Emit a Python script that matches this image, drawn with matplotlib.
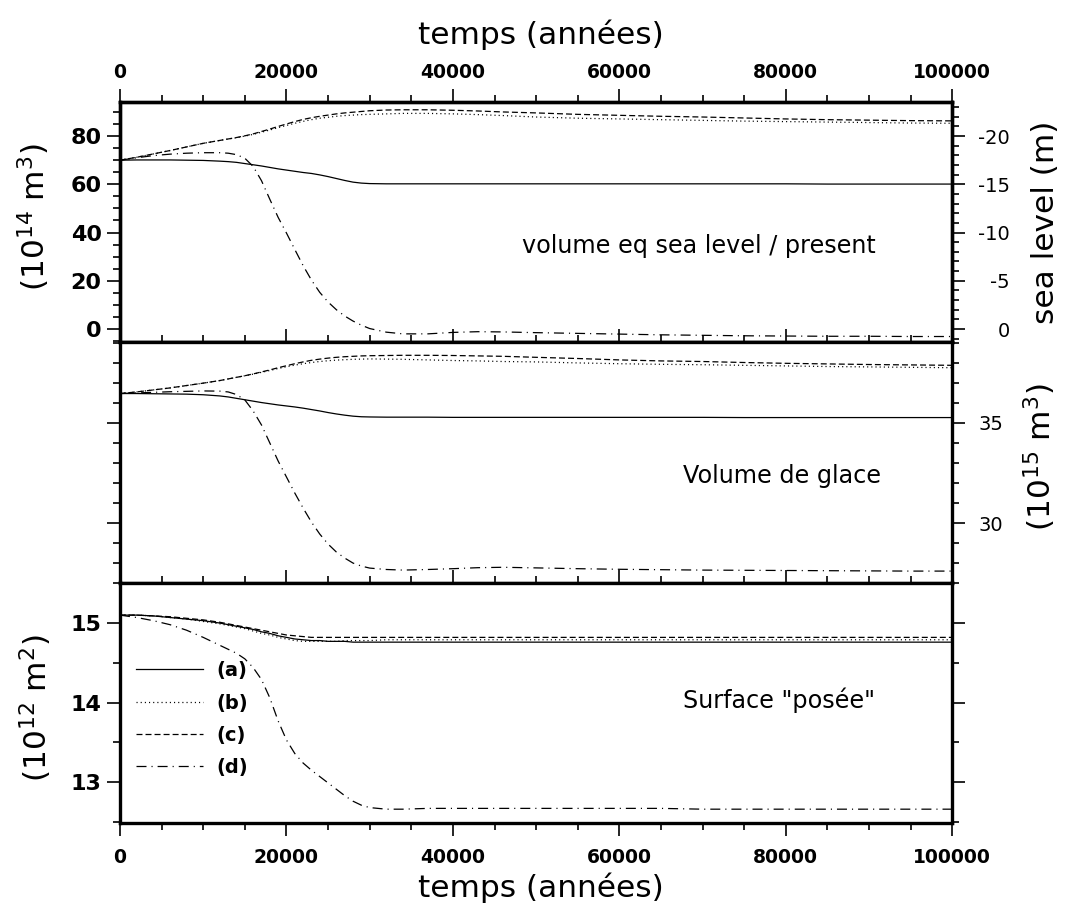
import matplotlib
matplotlib.use("Agg")
from matplotlib import pyplot as plt
from matplotlib.ticker import MultipleLocator

plt.rcParams['axes.unicode_minus'] = False
plt.rcParams['lines.scale_dashes'] = False

# temps (années)
temps = [0, 2000, 4000, 6000, 8000, 10000, 12000, 13000, 14000, 15000,
         16000, 17000, 18000, 19000, 20000, 21000, 22000, 23000, 24000, 25000,
         26000, 27000, 28000, 29000, 30000, 32000, 34000, 37000, 40000, 43000,
         46000, 50000, 55000, 60000, 65000, 70000, 75000, 80000, 85000, 90000,
         95000, 100000]

# volume eq sea level (10^14 m3)
vol_eq_a = [70.0, 70.1, 70.1, 70.1, 70.0, 69.9, 69.6, 69.4, 69.1, 68.6,
            68.1, 67.6, 67.0, 66.4, 65.9, 65.4, 64.9, 64.5, 63.9, 63.2,
            62.4, 61.6, 60.9, 60.5, 60.3, 60.2, 60.2, 60.2, 60.2, 60.2,
            60.2, 60.2, 60.2, 60.2, 60.2, 60.2, 60.2, 60.2, 60.1, 60.1,
            60.1, 60.1]
vol_eq_b = [70.0, 71.2, 72.6, 74.0, 75.5, 77.0, 78.2, 78.8, 79.3, 80.0,
            80.7, 81.6, 82.5, 83.5, 84.4, 85.3, 86.1, 86.8, 87.4, 87.8,
            88.2, 88.5, 88.7, 88.9, 89.0, 89.2, 89.4, 89.4, 89.2, 88.9,
            88.5, 87.9, 87.4, 87.1, 86.8, 86.5, 86.2, 86.0, 85.8, 85.6,
            85.4, 85.3]
vol_eq_c = [70.0, 71.2, 72.6, 74.0, 75.5, 77.0, 78.2, 78.8, 79.4, 80.1,
            80.9, 81.9, 82.9, 84.0, 85.0, 86.0, 86.9, 87.6, 88.2, 88.7,
            89.2, 89.6, 89.9, 90.2, 90.5, 90.8, 90.9, 90.9, 90.7, 90.4,
            90.0, 89.6, 89.0, 88.6, 88.2, 87.9, 87.5, 87.1, 86.8, 86.6,
            86.4, 86.3]
vol_eq_d = [70.0, 71.0, 71.9, 72.5, 72.9, 73.1, 73.1, 72.9, 72.3, 70.8,
            67.4, 61.5, 53.8, 46.3, 39.8, 33.0, 26.3, 20.3, 15.2, 11.2,
            8.0, 5.4, 3.3, 1.6, 0.2, -1.3, -2.0, -2.0, -1.4, -1.1,
            -1.2, -1.5, -1.8, -2.1, -2.4, -2.6, -2.8, -2.9, -3.0, -3.0,
            -3.1, -3.1]

# volume de glace (10^15 m3)
glace_a = [36.47, 36.47, 36.46, 36.45, 36.44, 36.41, 36.35, 36.30, 36.23, 36.16,
           36.09, 36.02, 35.96, 35.90, 35.85, 35.80, 35.74, 35.67, 35.60, 35.52,
           35.45, 35.39, 35.34, 35.31, 35.30, 35.29, 35.29, 35.29, 35.28, 35.28,
           35.28, 35.28, 35.28, 35.28, 35.28, 35.28, 35.27, 35.27, 35.27, 35.27,
           35.27, 35.27]
glace_b = [36.47, 36.55, 36.65, 36.75, 36.87, 36.99, 37.12, 37.20, 37.28, 37.36,
           37.44, 37.53, 37.62, 37.72, 37.81, 37.89, 37.96, 38.02, 38.07, 38.11,
           38.14, 38.16, 38.18, 38.19, 38.20, 38.19, 38.18, 38.15, 38.12, 38.10,
           38.07, 38.05, 38.00, 37.96, 37.93, 37.91, 37.88, 37.85, 37.82, 37.80,
           37.78, 37.76]
glace_c = [36.47, 36.55, 36.65, 36.75, 36.87, 36.99, 37.12, 37.20, 37.28, 37.36,
           37.45, 37.55, 37.65, 37.76, 37.86, 37.96, 38.05, 38.13, 38.19, 38.24,
           38.28, 38.31, 38.33, 38.35, 38.36, 38.37, 38.38, 38.38, 38.37, 38.35,
           38.33, 38.28, 38.22, 38.15, 38.10, 38.07, 38.02, 37.98, 37.95, 37.92,
           37.90, 37.88]
glace_d = [36.47, 36.50, 36.53, 36.56, 36.58, 36.60, 36.59, 36.55, 36.42, 36.15,
           35.60, 34.90, 34.00, 33.10, 32.30, 31.50, 30.75, 30.05, 29.45, 28.95,
           28.55, 28.25, 28.00, 27.85, 27.75, 27.68, 27.65, 27.68, 27.72, 27.77,
           27.79, 27.76, 27.72, 27.69, 27.67, 27.65, 27.64, 27.63, 27.62, 27.61,
           27.60, 27.60]

# surface posée (10^12 m2)
surf_a = [15.10, 15.10, 15.09, 15.07, 15.05, 15.03, 15.00, 14.98, 14.96, 14.94,
          14.92, 14.89, 14.87, 14.84, 14.82, 14.80, 14.79, 14.78, 14.78, 14.77,
          14.77, 14.77, 14.76, 14.76, 14.76, 14.76, 14.76, 14.76, 14.76, 14.76,
          14.76, 14.76, 14.76, 14.76, 14.76, 14.76, 14.76, 14.76, 14.76, 14.76,
          14.76, 14.76]
surf_b = [15.10, 15.10, 15.09, 15.07, 15.05, 15.02, 14.99, 14.97, 14.95, 14.93,
          14.90, 14.87, 14.85, 14.82, 14.80, 14.78, 14.77, 14.77, 14.77, 14.77,
          14.77, 14.78, 14.78, 14.78, 14.78, 14.79, 14.79, 14.79, 14.79, 14.79,
          14.79, 14.79, 14.79, 14.79, 14.79, 14.79, 14.79, 14.79, 14.79, 14.79,
          14.79, 14.79]
surf_c = [15.10, 15.10, 15.09, 15.08, 15.06, 15.04, 15.01, 14.99, 14.97, 14.95,
          14.93, 14.91, 14.89, 14.87, 14.85, 14.84, 14.83, 14.82, 14.82, 14.82,
          14.82, 14.82, 14.82, 14.82, 14.82, 14.82, 14.82, 14.82, 14.82, 14.82,
          14.82, 14.82, 14.82, 14.82, 14.82, 14.82, 14.82, 14.82, 14.82, 14.82,
          14.82, 14.82]
surf_d = [15.10, 15.07, 15.03, 14.98, 14.91, 14.82, 14.72, 14.67, 14.62, 14.55,
          14.44, 14.29, 14.06, 13.77, 13.53, 13.36, 13.24, 13.15, 13.07, 12.99,
          12.91, 12.83, 12.76, 12.71, 12.68, 12.66, 12.66, 12.67, 12.67, 12.67,
          12.67, 12.67, 12.67, 12.67, 12.67, 12.66, 12.66, 12.66, 12.66, 12.66,
          12.66, 12.66]

noms = ["(a)", "(b)", "(c)", "(d)"]
styles = ["-", (0, (0.8, 2.2)), (0, (4.3, 2.2)), (0, (7.2, 3.6, 0.8, 3.6))]

W, H = 1065, 917
X0, X1 = 120, 952.3


def boite(y_haut, y_bas):
    """Axes en pixels (haut et bas) -> coordonnées de figure."""
    return [X0 / W, 1 - y_bas / H, (X1 - X0) / W, (y_bas - y_haut) / H]


def cadre(ax):
    for s in ax.spines.values():
        s.set_linewidth(2.4)
    ax.tick_params(which="both", direction="out", width=1.2, labelsize=14)
    ax.tick_params(which="major", length=9.4)
    ax.tick_params(which="minor", length=4.8)


def courbes(ax, series):
    for y, nom, ls in zip(series, noms, styles):
        ax.plot(temps, y, color="black", lw=0.9, ls=ls, label=nom)
    ax.set_xlim(0, 100000)
    ax.xaxis.set_major_locator(MultipleLocator(20000))
    ax.xaxis.set_minor_locator(MultipleLocator(5000))


fig = plt.figure(figsize=(W / 100, H / 100), dpi=100)

# --- panneau du haut
ax1 = fig.add_axes(boite(102.3, 342.3))
courbes(ax1, [vol_eq_a, vol_eq_b, vol_eq_c, vol_eq_d])
ax1.set_ylim(-5.5, 94)
ax1.yaxis.set_major_locator(MultipleLocator(20))
ax1.yaxis.set_minor_locator(MultipleLocator(5))
cadre(ax1)
ax1.tick_params(axis="x", which="both", top=True, bottom=True,
                labeltop=True, labelbottom=False)
ax1.tick_params(axis="x", pad=5, labelsize=13.5)
ax1.tick_params(axis="y", which="both", right=False, pad=3.8, labelsize=16)

ax1r = ax1.twinx()
ax1r.set_ylim(1.375, -23.5)
ax1r.yaxis.set_major_locator(MultipleLocator(5))
ax1r.yaxis.set_minor_locator(MultipleLocator(1))
cadre(ax1r)
ax1r.tick_params(axis="y", pad=31.9)
for lab in ax1r.get_yticklabels():
    lab.set_horizontalalignment("right")

ax1.text(0.695, 0.372, "volume eq sea level / present", transform=ax1.transAxes,
         ha="center", va="baseline", fontsize=17.2)

# --- panneau du milieu
ax2 = fig.add_axes(boite(342.3, 582.5))
courbes(ax2, [glace_a, glace_b, glace_c, glace_d])
ax2.set_ylim(27.03, 39.03)
ax2.yaxis.set_major_locator(MultipleLocator(5))
ax2.yaxis.set_minor_locator(MultipleLocator(1))
cadre(ax2)
ax2.tick_params(axis="x", which="both", top=True, bottom=True,
                labeltop=False, labelbottom=False)
ax2.tick_params(axis="y", which="both", left=True, right=True,
                labelleft=False, labelright=True)
ax2.tick_params(axis="y", pad=9.4)
ax2.text(0.7954, 0.4146, "Volume de glace", transform=ax2.transAxes,
         ha="center", va="baseline", fontsize=17.2)

# --- panneau du bas
ax3 = fig.add_axes(boite(582.5, 822.7))
courbes(ax3, [surf_a, surf_b, surf_c, surf_d])
ax3.set_ylim(12.49, 15.51)
ax3.yaxis.set_major_locator(MultipleLocator(1))
ax3.yaxis.set_minor_locator(MultipleLocator(0.5))
cadre(ax3)
ax3.tick_params(axis="x", which="both", top=True, bottom=True,
                labeltop=False, labelbottom=True)
ax3.tick_params(axis="x", pad=8.5, labelsize=13.5)
ax3.tick_params(axis="y", which="both", left=True, right=True,
                labelleft=True, labelright=False)
ax3.tick_params(axis="y", pad=3.8, labelsize=16)
ax3.text(0.7918, 0.478, 'Surface "posée"', transform=ax3.transAxes,
         ha="center", va="baseline", fontsize=17.2)
ax3.legend(loc="upper left", bbox_to_anchor=(0.0192, 0.672), frameon=False,
           prop={"size": 14, "weight": "bold"}, handlelength=3.45,
           handletextpad=0.69, labelspacing=0.68, borderpad=0, borderaxespad=0)

# chiffres gras à gauche, en haut et en bas
plt.setp(ax1.get_xticklabels() + ax1.get_yticklabels()
         + ax3.get_xticklabels() + ax3.get_yticklabels(), fontweight="bold")

# --- titres d'axes
fig.text(541 / W, 1 - 34.5 / H, "temps (années)", fontsize=22.5,
         ha="center", va="center")
fig.text(541 / W, 1 - 888 / H, "temps (années)", fontsize=22.5,
         ha="center", va="center")
fig.text(34 / W, 1 - 217 / H, r"(10$^{14}$ m$^3$)", fontsize=22.5,
         rotation=90, ha="center", va="center")
fig.text(1045 / W, 1 - 222 / H, "sea level (m)", fontsize=22.5,
         rotation=90, ha="center", va="center")
fig.text(1040 / W, 1 - 457 / H, r"(10$^{15}$ m$^3$)", fontsize=22.5,
         rotation=90, ha="center", va="center")
fig.text(36 / W, 1 - 708 / H, r"(10$^{12}$ m$^2$)", fontsize=22.5,
         rotation=90, ha="center", va="center")

fig.savefig("out.png", dpi=100)
